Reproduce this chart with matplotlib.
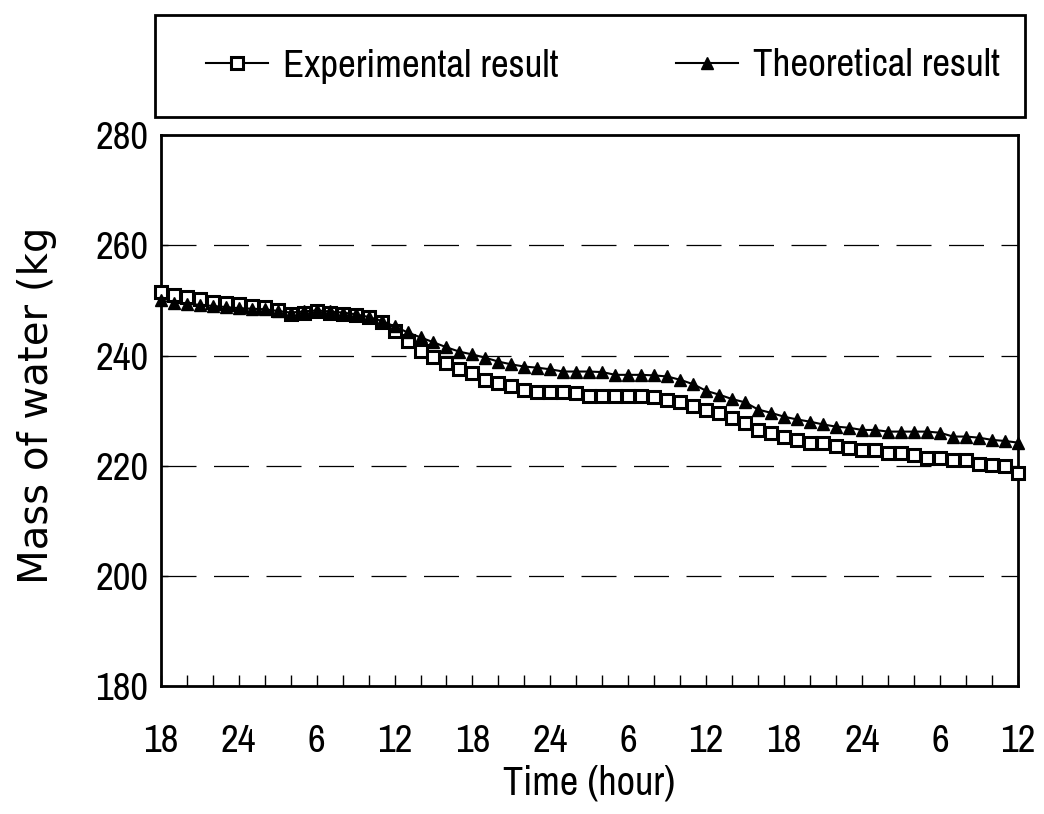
import matplotlib
matplotlib.use("Agg")
import matplotlib.pyplot as plt
from matplotlib import font_manager
from matplotlib.font_manager import FontProperties
from matplotlib.patches import Rectangle
from matplotlib.lines import Line2D

# Hourly record over 66 hours (start at 18 h)
hours = list(range(0, 67))
experimental = [
    251.5, 250.9, 250.7, 250.2, 249.8, 249.6, 249.3, 249.0, 248.8, 248.3,
    247.6, 247.8, 248.0, 247.8, 247.6, 247.4, 247.0, 246.0, 244.5, 242.6,
    240.8, 239.8, 238.7, 237.5, 236.9, 235.6, 235.1, 234.4, 233.8, 233.3,
    233.3, 233.3, 233.2, 232.7, 232.7, 232.7, 232.7, 232.6, 232.4, 232.0,
    231.5, 230.9, 230.2, 229.6, 228.6, 227.8, 226.5, 226.0, 225.3, 224.7,
    224.2, 224.1, 223.6, 223.3, 222.9, 222.8, 222.4, 222.3, 222.0, 221.5,
    221.4, 221.1, 221.0, 220.3, 220.2, 220.0, 218.7,
]
theoretical = [
    250.0, 249.6, 249.4, 249.2, 249.0, 248.8, 248.6, 248.5, 248.4, 248.1,
    247.8, 248.0, 248.2, 248.0, 247.8, 247.5, 247.0, 246.3, 245.3, 244.2,
    243.3, 242.4, 241.5, 240.7, 240.2, 239.6, 238.9, 238.4, 238.0, 237.8,
    237.5, 237.1, 237.1, 237.1, 237.0, 236.5, 236.5, 236.5, 236.4, 236.2,
    235.6, 234.8, 233.6, 232.9, 232.1, 231.5, 230.2, 229.6, 228.9, 228.4,
    228.0, 227.5, 227.1, 226.9, 226.5, 226.5, 226.2, 226.2, 226.2, 226.2,
    226.0, 225.3, 225.3, 225.1, 224.7, 224.5, 224.2,
]
time_labels = ["18", "24", "6", "12", "18", "24", "6", "12", "18", "24", "6", "12"]
y_ticks = [180, 200, 220, 240, 260, 280]


def pick_narrow_font():
    """Prefer an upright condensed sans face; fall back to Liberation Sans."""
    narrow = []
    for f in font_manager.fontManager.ttflist:
        if f.style != "normal" or f.weight not in (400, "normal", "regular"):
            continue
        name_l = f.name.lower()
        if ("narrow" in name_l or "condensed" in name_l
                or f.stretch in ("condensed", "semi-condensed")):
            if "mono" in name_l or "serif" in name_l and "sans" not in name_l:
                continue
            narrow.append(f)
    if narrow:
        narrow.sort(key=lambda f: (0 if "Liberation" in f.name else 1, f.name))
        return FontProperties(fname=narrow[0].fname), True
    return FontProperties(family="Liberation Sans"), False


base_font, is_narrow = pick_narrow_font()
tick_size = 28 if is_narrow else 22
legend_size = 28 if is_narrow else 23
xlabel_size = 29 if is_narrow else 23


def font(size):
    fp = base_font.copy()
    fp.set_size(size)
    return fp


fig = plt.figure(figsize=(10.44, 8.14), dpi=100)
ax = fig.add_axes([0.154, 0.157, 0.821, 0.677])

ax.plot(hours, experimental, color="black", lw=1.5, marker="s", ms=8.5,
        mfc="white", mec="black", mew=2.2, clip_on=False, zorder=3,
        label="Experimental result")
ax.plot(hours, theoretical, color="black", lw=1.5, marker="^", ms=9,
        mfc="black", mec="black", clip_on=False, zorder=4,
        label="Theoretical result")

ax.set_xlim(0, 66)
ax.set_ylim(180, 280)

ax.set_xticks(list(range(0, 67, 6)))
ax.set_xticklabels(time_labels, fontproperties=font(tick_size))
ax.set_xticks([h for h in range(0, 67, 2) if h % 6 != 0], minor=True)
ax.set_yticks(y_ticks)
ax.set_yticklabels([str(v) for v in y_ticks], fontproperties=font(tick_size))

ax.tick_params(axis="x", which="both", direction="in", length=8, width=1,
               pad=27)
ax.tick_params(axis="y", which="both", direction="in", length=5, width=1,
               pad=9)

for v in y_ticks[1:-1]:
    ax.axhline(v, color="black", lw=0.9, ls=(0, (28, 14)), zorder=1)

for s in ax.spines.values():
    s.set_linewidth(2)
    s.set_color("black")

ax.set_xlabel("Time (hour)", fontproperties=font(xlabel_size), labelpad=4)
ax.set_ylabel("Mass of water (kg", fontsize=29, fontfamily="DejaVu Sans")
ax.yaxis.set_label_coords(-0.121, 0.51)

# Legend panel above the plot
fig.patches.append(Rectangle((155 / 1044, 1 - 117 / 814), 870 / 1044, 102 / 814,
                             transform=fig.transFigure, fill=False,
                             edgecolor="black", lw=2))
handles = [
    Line2D([], [], color="black", lw=1.5, marker="s", ms=8.5, mfc="white",
           mec="black", mew=2.2),
    Line2D([], [], color="black", lw=1.5, marker="^", ms=9, mfc="black",
           mec="black"),
]
fig.legend(handles, ["Experimental result", "Theoretical result"],
           loc="center", bbox_to_anchor=(603 / 1044, 1 - 66 / 814), ncol=2,
           frameon=False, prop=font(legend_size),
           handlelength=1.6, handletextpad=0.4, columnspacing=3.0)

fig.savefig("out.png", dpi=100, facecolor="white")
